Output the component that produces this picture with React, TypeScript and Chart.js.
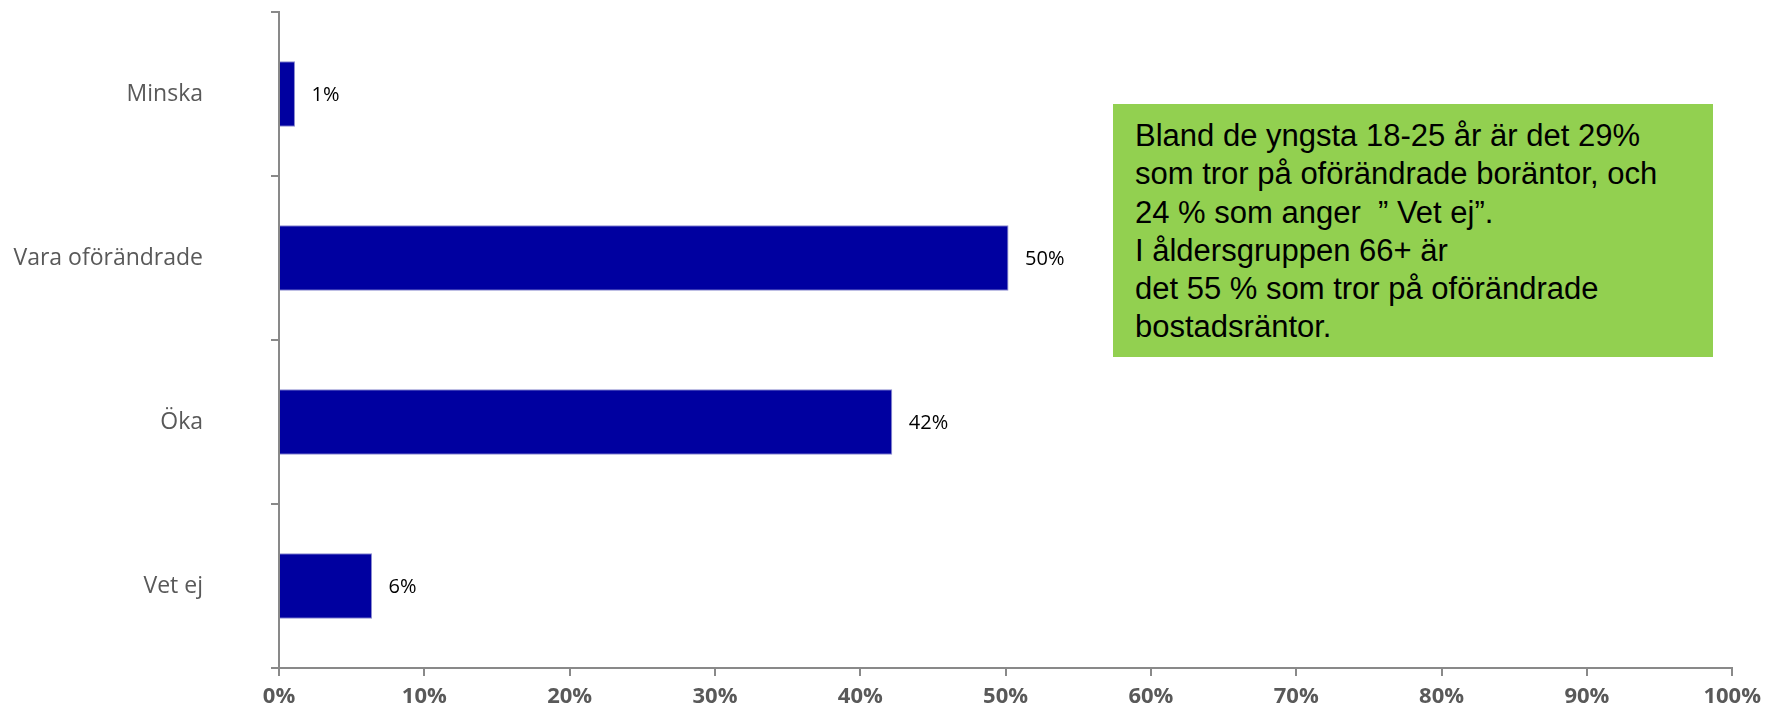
import React, { useEffect, useRef } from "react";
import { Chart, registerables } from "chart.js";

Chart.register(...registerables);

const categories = ["Minska", "Vara oförändrade", "Öka", "Vet ej"];
const values = [1.1, 50.2, 42.2, 6.4];
const dataLabels = ["1%", "50%", "42%", "6%"];
const xMin = 0;
const xMax = 100;
const xStep = 10;
const noteLines = [
  "Bland de yngsta 18-25 år är det 29%",
  "som tror på oförändrade boräntor, och",
  "24 % som anger  \u201D Vet ej\u201D.",
  "I åldersgruppen 66+ är",
  "det 55 % som tror på oförändrade",
  "bostadsräntor.",
];

const AXIS = "#898989";

const barLabelPlugin = {
  id: "barLabels",
  afterDatasetsDraw(chart: any) {
    const ctx = chart.ctx;
    const meta = chart.getDatasetMeta(0);
    ctx.save();
    ctx.font = '20px "Open Sans"';
    ctx.fillStyle = "#000000";
    ctx.textAlign = "left";
    ctx.textBaseline = "middle";
    meta.data.forEach((bar: any, i: number) => {
      ctx.fillText(dataLabels[i], bar.x + 16.5, bar.y + 1);
    });
    ctx.restore();
  },
};

export default function App() {
  const ref = useRef<HTMLCanvasElement | null>(null);

  useEffect(() => {
    if (!ref.current) return;
    const chart = new Chart(ref.current, {
      type: "bar",
      data: {
        labels: categories,
        datasets: [
          {
            data: values,
            backgroundColor: "#0000A0",
            borderColor: "#8C8CCF",
            borderWidth: 1,
            barPercentage: 0.4,
            categoryPercentage: 1,
          },
        ],
      },
      options: {
        indexAxis: "y",
        animation: false,
        responsive: false,
        maintainAspectRatio: false,
        layout: { padding: { top: 12, right: 33, left: 0, bottom: 0 } },
        plugins: {
          legend: { display: false },
          tooltip: { enabled: false },
        },
        scales: {
          x: {
            min: xMin,
            max: xMax,
            afterFit: (s: any) => {
              s.height = 46;
            },
            border: { color: AXIS, width: 2 },
            grid: {
              drawOnChartArea: false,
              drawTicks: true,
              tickLength: 8,
              color: AXIS,
              lineWidth: 2,
            },
            ticks: {
              stepSize: xStep,
              autoSkip: false,
              maxRotation: 0,
              padding: 8,
              color: "#595959",
              font: { family: "Open Sans", size: 22, weight: "bold" },
              callback: (v: any) => v + "%",
            },
          },
          y: {
            afterFit: (s: any) => {
              s.width = 279;
              s.paddingTop = 0;
              s.paddingBottom = 0;
            },
            border: { color: AXIS, width: 2 },
            grid: {
              drawOnChartArea: false,
              drawTicks: true,
              tickLength: 8,
              offset: true,
              color: AXIS,
              lineWidth: 2,
            },
            ticks: {
              padding: 68,
              color: "#595959",
              font: { family: "Open Sans", size: 23 },
            },
          },
        },
      },
      plugins: [barLabelPlugin],
    });
    return () => chart.destroy();
  }, []);

  return (
    <div
      style={{
        position: "absolute",
        left: 0,
        top: 0,
        width: 1769,
        height: 714,
        background: "#ffffff",
      }}
    >
      <canvas ref={ref} width={1769} height={714} style={{ display: "block" }} />
      <div
        style={{
          position: "absolute",
          left: 1113,
          top: 104,
          width: 600,
          height: 253,
          boxSizing: "border-box",
          background: "#92D050",
          paddingLeft: 22,
          paddingTop: 13,
          fontFamily: '"Liberation Sans", Arial, sans-serif',
          fontSize: 31,
          lineHeight: "38.3px",
          color: "#000000",
          whiteSpace: "pre",
        }}
      >
        {noteLines.map((l, i) => (
          <div key={i}>{l}</div>
        ))}
      </div>
    </div>
  );
}
